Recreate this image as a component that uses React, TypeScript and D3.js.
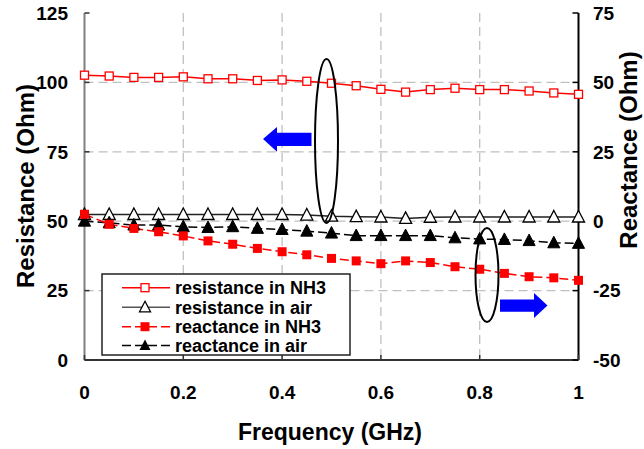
import React from "react";
import * as d3 from "d3";

const freq = [0, 0.05, 0.1, 0.15, 0.2, 0.25, 0.3, 0.35, 0.4, 0.45, 0.5, 0.55, 0.6, 0.65, 0.7, 0.75, 0.8, 0.85, 0.9, 0.95, 1.0];
const resistanceNH3 = [102.6, 102.3, 101.8, 101.8, 102.0, 101.3, 101.3, 100.7, 100.9, 100.4, 99.7, 98.8, 97.5, 96.5, 97.4, 97.9, 97.4, 97.4, 96.9, 96.2, 95.7];
const resistanceAir = [52.4, 52.4, 52.4, 52.4, 52.4, 52.4, 52.4, 52.4, 52.4, 52.2, 51.8, 51.6, 51.5, 51.0, 51.4, 51.5, 51.5, 51.5, 51.5, 51.5, 51.5];
const reactanceNH3 = [2.5, -1.1, -2.6, -3.8, -5.3, -7.1, -8.3, -9.8, -11.0, -12.1, -13.4, -14.3, -15.3, -14.3, -14.9, -16.4, -17.3, -18.8, -20.0, -20.4, -21.3];
const reactanceAir = [0, -0.6, -1.4, -1.4, -2.0, -2.3, -2.0, -2.6, -3.0, -3.6, -4.3, -5.2, -5.2, -5.2, -5.2, -6.0, -6.4, -6.6, -7.0, -7.8, -8.0];

const xTicks = [0, 0.2, 0.4, 0.6, 0.8, 1];
const xTickLabels = ["0", "0.2", "0.4", "0.6", "0.8", "1"];
const leftTicks = [0, 25, 50, 75, 100, 125];
const rightTicks = [-50, -25, 0, 25, 50, 75];
const legendLabels = ["resistance in NH3", "resistance in air", "reactance in NH3", "reactance in air"];

const FONT = "'Liberation Sans', Arial, Helvetica, sans-serif";

export default function App() {
  const W = 644, H = 449;
  const x = d3.scaleLinear().domain([0, 1]).range([84.5, 578.5]);
  const yL = d3.scaleLinear().domain([0, 125]).range([360, 13]);
  const yR = d3.scaleLinear().domain([-50, 75]).range([360, 13]);

  const lineL = d3.line<number>().x((_, i) => x(freq[i])).y((d) => yL(d));
  const lineR = d3.line<number>().x((_, i) => x(freq[i])).y((d) => yR(d));

  const tri = (cx: number, cy: number, s: number) =>
    `M${cx},${cy - s * 0.6} L${cx + s * 0.55},${cy + s * 0.45} L${cx - s * 0.55},${cy + s * 0.45} Z`;

  const red = "#ff0000";
  const x0 = x(0), x1 = x(1), yb = yL(0), yt = yL(125);

  const legX = 102, legY = 274, legW = 248, legH = 81;
  const rowY = [287.7, 307.3, 326.7, 345.5];

  return (
    <svg width={W} height={H} style={{ position: "absolute", left: 0, top: 0, background: "#fff" }} fontFamily={FONT}>
      <rect x={0} y={0} width={W} height={H} fill="#fff" />
      {/* grid */}
      {[25, 50, 75, 100].map((v) => (
        <line key={"gh" + v} x1={x0} x2={x1} y1={yL(v)} y2={yL(v)} stroke="#c0c0c0" strokeWidth={1.3} strokeDasharray="9,5" />
      ))}
      {[0.2, 0.4, 0.6, 0.8].map((v) => (
        <line key={"gv" + v} x1={x(v)} x2={x(v)} y1={yt} y2={yb} stroke="#c0c0c0" strokeWidth={1.3} strokeDasharray="9,5" />
      ))}
      {/* axes */}
      <line x1={x0} x2={x0} y1={yt} y2={yb} stroke="#808080" strokeWidth={2} />
      <line x1={x1} x2={x1} y1={yt} y2={yb} stroke="#000" strokeWidth={2} />
      <line x1={x0} x2={x1} y1={yb} y2={yb} stroke="#333" strokeWidth={2} />
      {leftTicks.map((v) => (
        <g key={"lt" + v}>
          <line x1={x0} x2={x0 + 5} y1={yL(v)} y2={yL(v)} stroke="#333" strokeWidth={1.5} />
          <text x={68} y={yL(v)} dy="0.36em" textAnchor="end" fontSize={19} fontWeight="bold">{v}</text>
        </g>
      ))}
      {rightTicks.map((v) => (
        <g key={"rt" + v}>
          <line x1={x1 - 6} x2={x1} y1={yR(v)} y2={yR(v)} stroke="#000" strokeWidth={1.5} />
          <text x={593} y={yR(v)} dy="0.36em" textAnchor="start" fontSize={19} fontWeight="bold">{v}</text>
        </g>
      ))}
      {xTicks.map((v, i) => (
        <g key={"xt" + v}>
          <line x1={x(v)} x2={x(v)} y1={yb - 5} y2={yb} stroke="#333" strokeWidth={1.5} />
          <text x={x(v)} y={392} dy="0.36em" textAnchor="middle" fontSize={19} fontWeight="bold">{xTickLabels[i]}</text>
        </g>
      ))}
      {/* titles */}
      <text x={330} y={432} dy="0.36em" textAnchor="middle" fontSize={23} fontWeight="bold">Frequency (GHz)</text>
      <text transform={`translate(25,186) rotate(-90)`} dy="0.36em" textAnchor="middle" fontSize={24} fontWeight="bold">Resistance (Ohm)</text>
      <text transform={`translate(628,150) rotate(-90)`} dy="0.36em" textAnchor="middle" fontSize={24} fontWeight="bold">Reactance (Ohm)</text>

      {/* series */}
      <path d={lineL(resistanceAir) || ""} fill="none" stroke="#222" strokeWidth={1.5} />
      <path d={lineL(resistanceNH3) || ""} fill="none" stroke={red} strokeWidth={1.5} />
      <path d={lineR(reactanceAir) || ""} fill="none" stroke="#000" strokeWidth={1.5} strokeDasharray="9,4" />
      <path d={lineR(reactanceNH3) || ""} fill="none" stroke={red} strokeWidth={1.5} strokeDasharray="9,4" />
      {resistanceAir.map((v, i) => (
        <path key={"ra" + i} d={tri(x(freq[i]), yL(v), 11)} fill="#fff" stroke="#000" strokeWidth={1.3} />
      ))}
      {resistanceNH3.map((v, i) => (
        <rect key={"rn" + i} x={x(freq[i]) - 4} y={yL(v) - 4} width={8} height={8} fill="#fff" stroke={red} strokeWidth={1.3} />
      ))}
      {reactanceAir.map((v, i) => (
        <path key={"xa" + i} d={tri(x(freq[i]), yR(v), 11)} fill="#000" stroke="#000" strokeWidth={1} />
      ))}
      {reactanceNH3.map((v, i) => (
        <rect key={"xn" + i} x={x(freq[i]) - 4.5} y={yR(v) - 4.5} width={9} height={9} fill={red} />
      ))}

      {/* annotations */}
      <ellipse cx={326.5} cy={141} rx={11.5} ry={82} fill="none" stroke="#000" strokeWidth={2} />
      <ellipse cx={487} cy={275} rx={11.5} ry={47} fill="none" stroke="#000" strokeWidth={2} />
      <polygon points="263,139 277,127 277,132.7 311.5,132.7 311.5,146 277,146 277,151.7" fill="#0000ff" />
      <polygon points="547.5,305.5 534,293 534,299.5 500,299.5 500,311.7 534,311.7 534,318" fill="#0000ff" />

      {/* legend */}
      <rect x={legX} y={legY} width={legW} height={legH} fill="#fff" stroke="#222" strokeWidth={1.5} />
      <line x1={122} x2={170} y1={rowY[0]} y2={rowY[0]} stroke={red} strokeWidth={1.5} />
      <rect x={145 - 4} y={rowY[0] - 4} width={8} height={8} fill="#fff" stroke={red} strokeWidth={1.3} />
      <line x1={122} x2={170} y1={rowY[1]} y2={rowY[1]} stroke="#555" strokeWidth={1.5} />
      <path d={tri(145, rowY[1], 10)} fill="#fff" stroke="#000" strokeWidth={1.3} />
      <line x1={122} x2={170} y1={rowY[2]} y2={rowY[2]} stroke={red} strokeWidth={1.5} strokeDasharray="9,4" />
      <rect x={145 - 4.5} y={rowY[2] - 4.5} width={9} height={9} fill={red} />
      <line x1={122} x2={170} y1={rowY[3]} y2={rowY[3]} stroke="#000" strokeWidth={1.5} strokeDasharray="9,4" />
      <path d={tri(145, rowY[3], 10)} fill="#000" />
      {legendLabels.map((t, i) => (
        <text key={t} x={175} y={rowY[i]} dy="0.36em" fontSize={18} fontWeight="bold">{t}</text>
      ))}
    </svg>
  );
}
